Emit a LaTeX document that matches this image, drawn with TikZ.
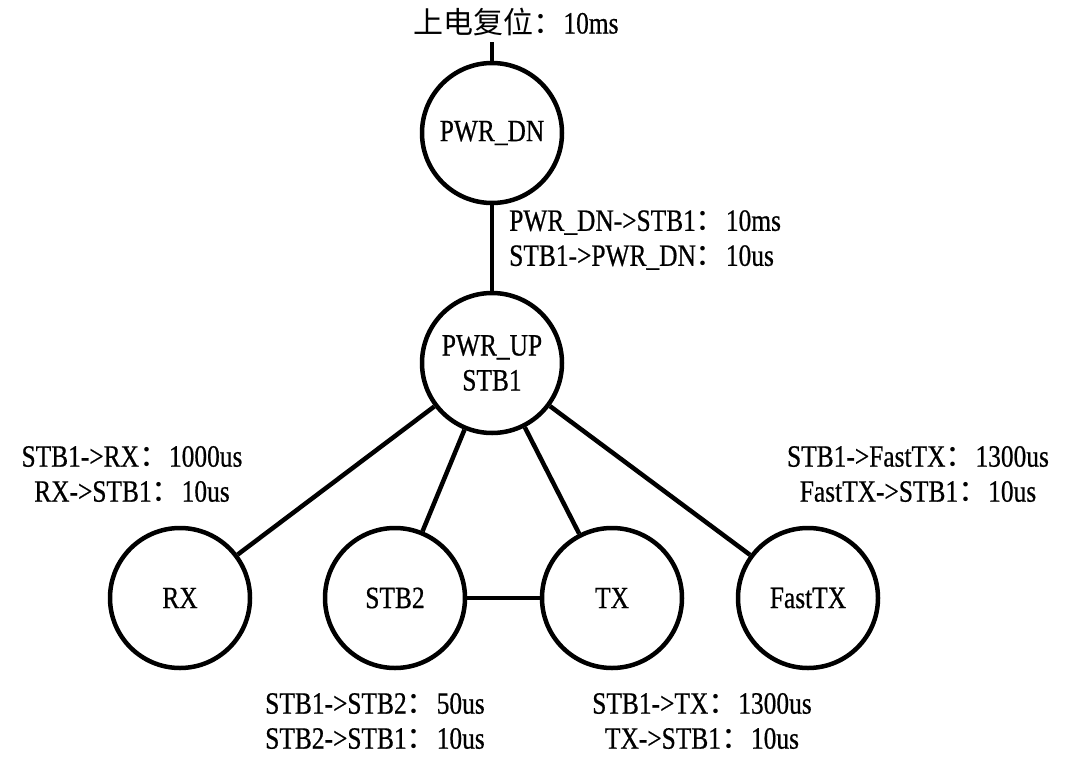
\documentclass[tikz,border=0pt]{standalone}
\usepackage{fontspec}
\setmainfont[FakeStretch=0.82,FakeBold=0.6]{Liberation Serif}
\newfontfamily\cjk{Noto Sans CJK SC}
\newcommand{\fw}{{\cjk\fontsize{30}{36}\selectfont ：}}
\newcommand{\lbl}{\fontsize{31}{35}\selectfont}
\begin{document}
\begin{tikzpicture}[x=1pt,y=-1pt,line width=4.5pt,
  state/.style={circle,draw,minimum size=140pt,inner sep=0pt,align=center,font=\lbl},
  note/.style={align=center,font=\lbl,inner sep=0pt}]
  \fill[white] (0,0) rectangle (1080,758);
  \useasboundingbox (0,0) rectangle (1080,758);

  % states
  \node[state] (pd) at (492,133) {PWR\_DN};
  \node[state] (pu) at (492,363) {PWR\_UP\\STB1};
  \node[state] (rx) at (180,598) {RX};
  \node[state] (s2) at (395,598) {STB2};
  \node[state] (tx) at (612,598) {TX};
  \node[state] (ft) at (808,598) {FastTX};

  % reset entry
  \node[note] (rst) at (516,22) {{\cjk\fontsize{30}{36}\selectfont 上电复位}\fw10ms};
  \coordinate (rtop) at (492,42);
  \draw (rtop) -- (pd.north);

  % transitions
  \draw (pd) -- (pu);
  \draw (pu) -- (rx);
  \draw (pu) -- (s2);
  \draw (pu) -- (tx);
  \draw (pu) -- (ft);
  \draw (s2) -- (tx);

  % timing labels
  \node[note,align=left,anchor=west] (lpd) at (507,240)
    {PWR\_DN->STB1\fw10ms\\STB1->PWR\_DN\fw10us};
  \node[note] (lrx) at (132,474) {STB1->RX\fw1000us\\RX->STB1\fw10us};
  \node[note] (lft) at (918,474) {STB1->FastTX\fw1300us\\FastTX->STB1\fw10us};
  \node[note] (ls2) at (375,721) {STB1->STB2\fw50us\\STB2->STB1\fw10us};
  \node[note] (ltx) at (702,721) {STB1->TX\fw1300us\\TX->STB1\fw10us};
\end{tikzpicture}
\end{document}
